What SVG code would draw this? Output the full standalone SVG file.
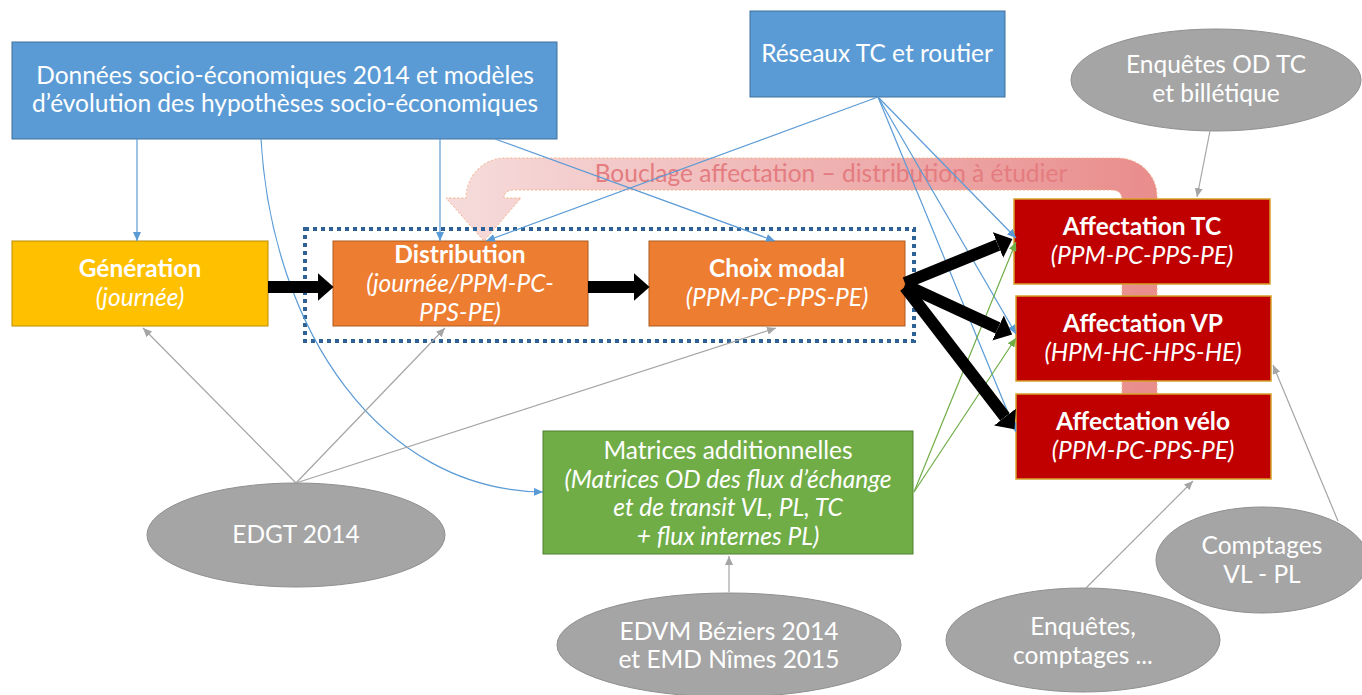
<svg xmlns="http://www.w3.org/2000/svg" width="1362" height="695" viewBox="0 0 1362 695">
<defs>
<linearGradient id="gBoucle" x1="446" y1="0" x2="1160" y2="0" gradientUnits="userSpaceOnUse">
<stop offset="0" stop-color="#f6dcdc"/>
<stop offset="1" stop-color="#e98c8c"/>
</linearGradient>
<marker id="mThick" viewBox="0 0 10 10" refX="0" refY="5" markerUnits="strokeWidth" markerWidth="1.3" markerHeight="2.3" orient="auto" preserveAspectRatio="none">
<path d="M0,0 L10,5 L0,10 z" fill="#000"/>
</marker>
<marker id="mBlue" viewBox="0 0 10 10" refX="10" refY="5" markerUnits="userSpaceOnUse" markerWidth="9" markerHeight="8" orient="auto" preserveAspectRatio="none">
<path d="M0,0 L10,5 L0,10 z" fill="#5b9bd5"/>
</marker>
<marker id="mGreen" viewBox="0 0 10 10" refX="10" refY="5" markerUnits="userSpaceOnUse" markerWidth="9" markerHeight="8" orient="auto" preserveAspectRatio="none">
<path d="M0,0 L10,5 L0,10 z" fill="#70ad47"/>
</marker>
<marker id="mGray" viewBox="0 0 10 10" refX="10" refY="5" markerUnits="userSpaceOnUse" markerWidth="9" markerHeight="8" orient="auto" preserveAspectRatio="none">
<path d="M0,0 L10,5 L0,10 z" fill="#a5a5a5"/>
</marker>
</defs>
<style>
text{font-family:Lato,"Liberation Sans",sans-serif;fill:#fff;text-anchor:middle;font-size:24.5px}
.b{font-weight:bold}
.i{font-style:italic}
.blue{fill:#5b9bd5;stroke:#41719c;stroke-width:1}
.yel{fill:#ffc000;stroke:#bc8c00;stroke-width:1}
.ora{fill:#ed7d31;stroke:#ae5a21;stroke-width:1}
.red{fill:#c00000;stroke:#d4a02a;stroke-width:1.5}
.grn{fill:#70ad47;stroke:#507e32;stroke-width:1}
.ell{fill:#a5a5a5;stroke:#8f8f8f;stroke-width:1}
.cb{stroke:#5b9bd5;stroke-width:1.2;fill:none;marker-end:url(#mBlue)}
.cg{stroke:#70ad47;stroke-width:1.2;fill:none;marker-end:url(#mGreen)}
.cy{stroke:#a5a5a5;stroke-width:1.2;fill:none;marker-end:url(#mGray)}
.ck{stroke:#000;stroke-width:12;fill:none;marker-end:url(#mThick)}
</style>
<rect width="1362" height="695" fill="#fff"/>

<g id="bouclage">
<path d="M1157,394 L1157,196 A39,38 0 0 0 1118,158 L505,158 A39,40 0 0 0 466,198 L446,198 L484,241 L521,198 L504,198 Q504,190 514,190 L1112,190 Q1122,190 1122,200 L1122,394 Z" fill="url(#gBoucle)" stroke="#f4b183" stroke-width="1" stroke-dasharray="2 2"/>
<text x="831" y="182" style="fill:#e47c80">Bouclage affectation – distribution à étudier</text>
</g>

<g id="donnees">
<rect class="blue" x="12" y="42" width="545" height="97"/>
<text x="285" y="84">Données socio-économiques 2014 et modèles</text>
<text x="285" y="112">d’évolution des hypothèses socio-économiques</text>
</g>
<g id="reseaux">
<rect class="blue" x="750" y="11" width="255" height="86"/>
<text x="877" y="62">Réseaux TC et routier</text>
</g>
<g id="enquetes-od">
<ellipse class="ell" cx="1216" cy="80" rx="145" ry="51"/>
<text x="1216" y="73">Enquêtes OD TC</text>
<text x="1216" y="102">et billétique</text>
</g>
<g id="generation">
<rect class="yel" x="12" y="241" width="256" height="85"/>
<text class="b" x="140" y="277">Génération</text>
<text class="i" x="140" y="306">(journée)</text>
</g>
<g id="distribution">
<rect class="ora" x="333" y="241" width="255" height="85"/>
<text class="b" x="460" y="263">Distribution</text>
<text class="i" x="460" y="292">(journée/PPM-PC-</text>
<text class="i" x="460" y="321">PPS-PE)</text>
</g>
<g id="choix">
<rect class="ora" x="649" y="241" width="256" height="85"/>
<text class="b" x="777" y="277">Choix modal</text>
<text class="i" x="777" y="306">(PPM-PC-PPS-PE)</text>
</g>
<g id="cadre">
<rect x="305" y="229" width="609" height="112" fill="none" stroke="#2e6195" stroke-width="4" stroke-dasharray="4 4"/>
</g>
<g id="aff-tc">
<rect class="red" x="1014" y="199" width="256" height="85"/>
<text class="b" x="1142" y="235">Affectation TC</text>
<text class="i" x="1142" y="264">(PPM-PC-PPS-PE)</text>
</g>
<g id="aff-vp">
<rect class="red" x="1016" y="296" width="255" height="85"/>
<text class="b" x="1143" y="332">Affectation VP</text>
<text class="i" x="1143" y="361">(HPM-HC-HPS-HE)</text>
</g>
<g id="aff-velo">
<rect class="red" x="1016" y="394" width="255" height="85"/>
<text class="b" x="1143" y="430">Affectation vélo</text>
<text class="i" x="1143" y="459">(PPM-PC-PPS-PE)</text>
</g>
<g id="matrices">
<rect class="grn" x="543" y="431" width="370" height="123"/>
<text x="728" y="459">Matrices additionnelles</text>
<text class="i" x="728" y="488">(Matrices OD des flux d’échange</text>
<text class="i" x="728" y="516">et de transit VL, PL, TC</text>
<text class="i" x="728" y="545">+ flux internes PL)</text>
</g>
<g id="edgt">
<ellipse class="ell" cx="296" cy="535" rx="149" ry="52"/>
<text x="296" y="543">EDGT 2014</text>
</g>
<g id="edvm">
<ellipse class="ell" cx="729" cy="645" rx="172" ry="52"/>
<text x="729" y="640">EDVM Béziers 2014</text>
<text x="729" y="668">et EMD Nîmes 2015</text>
</g>
<g id="enquetes-comptages">
<ellipse class="ell" cx="1083" cy="640" rx="137" ry="52"/>
<text x="1083" y="635">Enquêtes,</text>
<text x="1083" y="664">comptages ...</text>
</g>
<g id="comptages">
<ellipse class="ell" cx="1262" cy="560" rx="106" ry="53"/>
<text x="1262" y="554">Comptages</text>
<text x="1262" y="583">VL - PL</text>
</g>

<g id="connectors">
<line class="cb" x1="137" y1="139" x2="137" y2="241"/>
<line class="cb" x1="440" y1="139" x2="440" y2="241"/>
<line class="cb" x1="495" y1="139" x2="775" y2="241"/>
<path class="cb" d="M261,139 C272,330 380,490 543,492"/>
<line class="cb" x1="878" y1="97" x2="486" y2="241"/>
<line class="cb" x1="878" y1="97" x2="1016" y2="238"/>
<line class="cb" x1="878" y1="97" x2="1016" y2="334"/>
<line class="cb" x1="878" y1="97" x2="1016" y2="432"/>
<line class="cg" x1="914" y1="492" x2="1016" y2="242"/>
<line class="cg" x1="914" y1="492" x2="1016" y2="338"/>
<line class="cy" x1="296" y1="483" x2="143" y2="328"/>
<line class="cy" x1="296" y1="483" x2="445" y2="328"/>
<line class="cy" x1="296" y1="483" x2="776" y2="328"/>
<line class="cy" x1="729" y1="592" x2="729" y2="556"/>
<line class="cy" x1="1210" y1="131" x2="1197" y2="197"/>
<line class="cy" x1="1086" y1="588" x2="1193" y2="481"/>
<line class="cy" x1="1338" y1="521" x2="1273" y2="365"/>
<line class="ck" x1="268" y1="287" x2="318" y2="287"/>
<line class="ck" x1="588" y1="287" x2="634" y2="287"/>
<line class="ck" x1="905" y1="283" x2="998" y2="245"/>
<line class="ck" x1="905" y1="285" x2="998" y2="328"/>
<line class="ck" x1="905" y1="287" x2="1005" y2="417"/>
</g>
</svg>
